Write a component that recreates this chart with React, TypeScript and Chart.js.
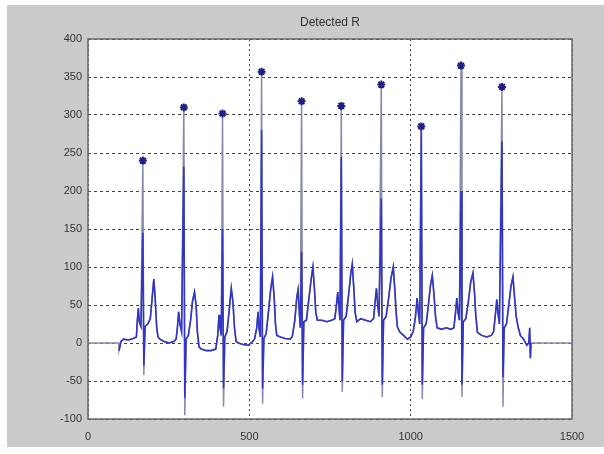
import React, { useEffect, useRef } from "react";
import { Chart, registerables } from "chart.js";

Chart.register(...registerables);

const titleText = "Detected R";
const xTicks = [0, 500, 1000, 1500];
const yMin = -100;
const yMax = 400;

// filtered ECG trace (grey), padded with zeros outside the recording
const ecgX = [
  0, 95, 96, 99, 102, 110, 125, 140, 150, 153, 156, 159, 164, 170, 173, 177, 185, 193, 199, 204, 208, 213, 217, 223, 236, 251, 266, 273, 277, 281, 285, 290,
  297, 300, 304, 311, 318, 324, 330, 335, 339, 344, 351, 366, 381, 396, 402, 406, 409, 413, 417, 420, 424, 431, 438, 444, 449, 454, 459, 466, 481, 496,
  506, 516, 523, 527, 530, 534, 538, 541, 545, 552, 559, 566, 572, 577, 581, 585, 596, 611, 626, 633, 641, 647, 651, 655, 658, 662, 665, 669, 677, 685,
  692, 697, 702, 706, 711, 725, 740, 755, 765, 770, 774, 778, 781, 785, 788, 792, 800, 808, 814, 819, 824, 828, 833, 845, 860, 875, 885, 890, 894, 898,
  902, 909, 912, 916, 924, 932, 939, 946, 951, 955, 959, 967, 978, 990, 1000, 1008, 1015, 1020, 1024, 1028, 1033, 1036, 1040, 1048, 1055, 1061, 1067,
  1072, 1077, 1082, 1095, 1110, 1125, 1134, 1139, 1143, 1147, 1151, 1156, 1159, 1163, 1171, 1179, 1186, 1193, 1198, 1202, 1207, 1220, 1235, 1250, 1257,
  1262, 1267, 1271, 1275, 1283, 1286, 1290, 1297, 1304, 1311, 1317, 1322, 1327, 1333, 1340, 1350, 1360, 1366, 1369, 1371, 1373, 1500,
];
const ecgY = [
  0, 0, -10, -5, 2, 5, 4, 6, 8, 30, 46, 28, 22, 240, -42, 22, 25, 32, 60, 84, 60, 20, 8, 5, 2, 0, 2, 5, 20, 41, 25, 15,
  310, -95, 5, 10, 30, 55, 67, 50, 15, -5, -8, -10, -10, -8, 10, 37, 20, 10, 302, -84, 8, 15, 45, 72, 55, 20, 2, 0, -2, -3,
  0, 5, 20, 41, 20, 8, 357, -80, 6, 12, 40, 70, 87, 60, 25, 10, 8, 6, 5, 8, 30, 60, 70, 40, 20, 318, -73, 28, 30, 60,
  85, 100, 70, 40, 30, 30, 28, 30, 32, 50, 67, 45, 30, 312, -64, 30, 35, 65, 90, 104, 70, 40, 28, 32, 30, 28, 32, 55, 72, 50,
  35, 340, -71, 30, 35, 60, 85, 100, 70, 40, 21, 14, 10, 5, 8, 15, 35, 59, 40, 25, 285, -74, 20, 25, 50, 75, 89,
  65, 35, 20, 18, 20, 18, 20, 40, 59, 40, 30, 365, -71, 28, 32, 55, 80, 92, 65, 35, 14, 10, 8, 10, 15,
  35, 57, 38, 25, 337, -84, 20, 25, 50, 75, 87, 60, 35, 21, 10, 5, -3, 0, 20, -20, 0, 0,
];

// raw trace (blue) R and S amplitudes, beat by beat
const rawR = [145, 232, 150, 280, 120, 245, 190, 280, 200, 265];
const rawS = [-30, -72, -60, -60, -55, -50, -55, -55, -55, -45];
const rawStart = 96;
const rawEnd = 1373;

// detected R peaks
const peakX = [170, 297, 417, 538, 662, 785, 909, 1033, 1156, 1283];
const peakY = [240, 310, 302, 357, 318, 312, 340, 285, 365, 337];

export default function App() {
  const ref = useRef<HTMLCanvasElement>(null);
  useEffect(() => {
    if (!ref.current) return;
    const grey = ecgX.map((x, i) => ({ x, y: ecgY[i] }));
    const raw: { x: number; y: number }[] = [];
    ecgX.forEach((x, i) => {
      if (x < rawStart || x > rawEnd) return;
      let y = ecgY[i];
      const pk = peakX.indexOf(x);
      if (pk >= 0) y = rawR[pk];
      const sk = peakX.findIndex((p) => ecgX[i - 1] === p);
      if (sk >= 0) y = rawS[sk];
      raw.push({ x, y });
    });
    const peaks = peakX.map((x, i) => ({ x, y: peakY[i] }));

    const bg = {
      id: "bg",
      beforeDraw(c: any) {
        const ctx = c.ctx;
        const a = c.chartArea;
        ctx.save();
        ctx.fillStyle = "#ffffff";
        ctx.fillRect(0, 0, c.width, c.height);
        ctx.fillStyle = "#cbcbcb";
        ctx.fillRect(7, 5, 597, 442);
        ctx.fillStyle = "#ffffff";
        ctx.fillRect(a.left, a.top, a.right - a.left, a.bottom - a.top);
        ctx.restore();
      },
      afterDraw(c: any) {
        const ctx = c.ctx;
        const a = c.chartArea;
        ctx.save();
        ctx.strokeStyle = "#6a6a6a";
        ctx.lineWidth = 1.5;
        ctx.strokeRect(a.left, a.top, a.right - a.left, a.bottom - a.top);
        ctx.fillStyle = "#333333";
        ctx.font = "12px 'Liberation Sans', Arial, sans-serif";
        ctx.textAlign = "center";
        ctx.textBaseline = "middle";
        ctx.fillText(titleText, (a.left + a.right) / 2, 23);
        ctx.restore();
      },
    };

    const chart = new Chart(ref.current, {
      type: "scatter",
      data: {
        datasets: [
          {
            label: "R",
            data: peaks,
            showLine: false,
            pointStyle: "star",
            pointRadius: 4,
            borderWidth: 2,
            borderColor: "#1e1e86",
            backgroundColor: "#1e1e86",
          },
          {
            label: "raw",
            data: raw,
            showLine: true,
            borderColor: "#3236c2",
            borderWidth: 1.6,
            pointRadius: 0,
            tension: 0,
          },
          {
            label: "filtered",
            data: grey,
            showLine: true,
            borderColor: "#868aa8",
            borderWidth: 1.5,
            pointRadius: 0,
            tension: 0,
          },
        ],
      },
      options: {
        animation: false,
        responsive: false,
        layout: { padding: { left: 0, top: 39, right: 32, bottom: 0 } },
        plugins: { legend: { display: false }, tooltip: { enabled: false }, title: { display: false } },
        scales: {
          x: {
            type: "linear",
            min: 0,
            max: 1500,
            afterBuildTicks: (s: any) => {
              s.ticks = xTicks.map((v) => ({ value: v }));
            },
            afterFit: (s: any) => {
              s.height = 35;
            },
            grid: { color: "#444444", lineWidth: 1, drawTicks: false },
            border: { display: false, dash: [2, 3] },
            ticks: {
              padding: 11,
              color: "#333333",
              font: { family: "'Liberation Sans', Arial, sans-serif", size: 11 },
              maxRotation: 0,
              callback: (v: any) => String(v),
            },
          },
          y: {
            type: "linear",
            min: yMin,
            max: yMax,
            afterFit: (s: any) => {
              s.width = 88;
            },
            grid: { color: "#444444", lineWidth: 1, drawTicks: false },
            border: { display: false, dash: [3, 3] },
            ticks: {
              stepSize: 50,
              padding: 6,
              color: "#333333",
              font: { family: "'Liberation Sans', Arial, sans-serif", size: 11 },
              callback: (v: any) => String(v),
            },
          },
        },
      },
      plugins: [bg],
    });
    return () => chart.destroy();
  }, []);
  return (
    <div style={{ position: "fixed", left: 0, top: 0, width: 604, height: 454 }}>
      <canvas ref={ref} width={604} height={454} style={{ display: "block" }} />
    </div>
  );
}
